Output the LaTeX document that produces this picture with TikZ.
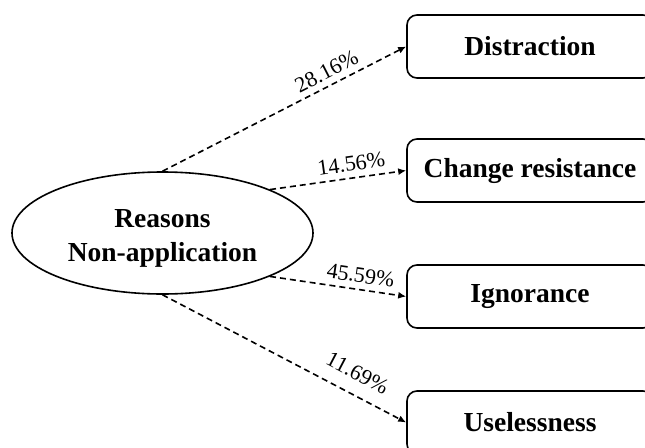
\documentclass[tikz,border=0pt]{standalone}
\usepackage{fontspec}
\setmainfont{Liberation Serif}
\usetikzlibrary{arrows.meta,shapes.geometric}
\tikzset{
  reasonbox/.style={draw, line width=1.6pt, rounded corners=10pt, minimum width=246pt, minimum height=63pt, inner sep=0pt, font=\fontsize{27.5}{30}\selectfont\bfseries},
  rootell/.style={draw, ellipse, line width=1.6pt, minimum width=301pt, minimum height=122pt, inner sep=0pt},
  roottext/.style={align=center, inner sep=0pt, font=\fontsize{27.5}{34}\selectfont\bfseries},
  conn/.style={line width=1.6pt, dash pattern=on 6pt off 4pt, -{Latex[length=8pt,width=7pt]}},
  pct/.style={font=\fontsize{22}{24}\selectfont, sloped, above=3pt, inner sep=3pt}
}
\begin{document}
\begin{tikzpicture}[x=1pt,y=-1pt]
\useasboundingbox (0,0) rectangle (645,447);
\clip (0,0) rectangle (645,447);
\node[rootell] (r) at (162.5,233) {};
\node[roottext, yshift=-5pt] (rt) at (r.center) {Reasons\\Non-application};
\node[reasonbox] (b1) at (530,46.5) {Distraction};
\node[reasonbox] (b2) at (530,170.5) {Change resistance};
\node[reasonbox] (b3) at (530,296.5) {Ignorance};
\node[reasonbox] (b4) at (530,422.5) {Uselessness};
\draw[conn] (r.north) -- node[pct, pos=0.70] {28.16\%} (b1.west);
\draw[conn] (r.22) -- node[pct, pos=0.61] {14.56\%} (b2.west);
\draw[conn] (r.-22) -- node[pct, pos=0.65] {45.59\%} (b3.west);
\draw[conn] (r.south) -- node[pct, pos=0.76, above=7pt] {11.69\%} (b4.west);
\end{tikzpicture}
\end{document}
